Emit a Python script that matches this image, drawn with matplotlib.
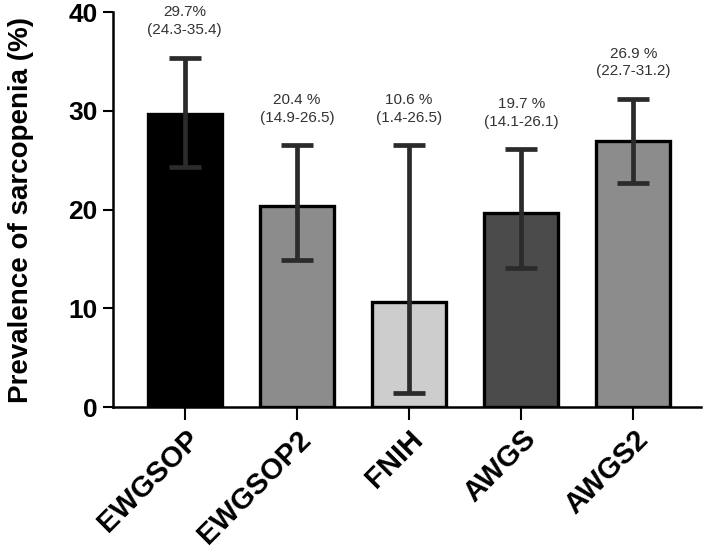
import matplotlib
matplotlib.use("Agg")
import matplotlib.pyplot as plt
import numpy as np

categories = ["EWGSOP", "EWGSOP2", "FNIH", "AWGS", "AWGS2"]
prevalence = [29.7, 20.4, 10.6, 19.7, 26.9]
ci_low = [24.3, 14.9, 1.4, 14.1, 22.7]
ci_high = [35.4, 26.5, 26.5, 26.1, 31.2]
value_labels = ["29.7%", "20.4 %", "10.6 %", "19.7 %", "26.9 %"]
bar_colors = ["#000000", "#8c8c8c", "#cdcdcd", "#4b4b4b", "#8c8c8c"]
yticks = [0, 10, 20, 30, 40]

plt.rcParams['font.family'] = ['Liberation Sans', 'DejaVu Sans']

fig = plt.figure(figsize=(7.09, 5.51), dpi=100)
ax = fig.add_axes([0.1594, 0.2613, 0.829, 0.7167])

x = np.arange(len(categories))
vals = np.array(prevalence)
lo = vals - np.array(ci_low)
hi = np.array(ci_high) - vals

ax.bar(x, vals, width=0.66, color=bar_colors, edgecolor="black", linewidth=2.4, zorder=2)
ax.errorbar(x, vals, yerr=[lo, hi], fmt="none", ecolor="#2b2b2b", elinewidth=3.4,
            capsize=11.5, capthick=3.4, zorder=3)

for xi, lab, lw, up in zip(x, value_labels, ci_low, ci_high):
    ax.annotate(f"{lab}\n({lw}-{up})", xy=(xi, up), xytext=(0, 15),
                textcoords="offset points", ha="center", va="bottom",
                fontsize=11, color="#333333", linespacing=1.3, annotation_clip=False)

ax.set_xlim(-0.64, 4.6)
ax.set_ylim(0, 40)
ax.set_yticks(yticks)
ax.set_yticklabels([str(t) for t in yticks], fontsize=19, fontweight="bold")
ax.set_xticks(x)
ax.set_xticklabels(categories, rotation=45, ha="right", rotation_mode="anchor",
                   fontsize=21, fontweight="bold")
ax.set_ylabel("Prevalence of sarcopenia (%)", fontsize=20, fontweight="bold", labelpad=8)
ax.yaxis.set_label_coords(-0.135, 0.5)

for s in ["top", "right"]:
    ax.spines[s].set_visible(False)
for s in ["left", "bottom"]:
    ax.spines[s].set_linewidth(1.8)
ax.tick_params(axis="y", direction="out", length=7, width=1.5, pad=4)
ax.tick_params(axis="x", direction="out", length=9, width=1.5, pad=4)

fig.savefig("out.png", dpi=100)
